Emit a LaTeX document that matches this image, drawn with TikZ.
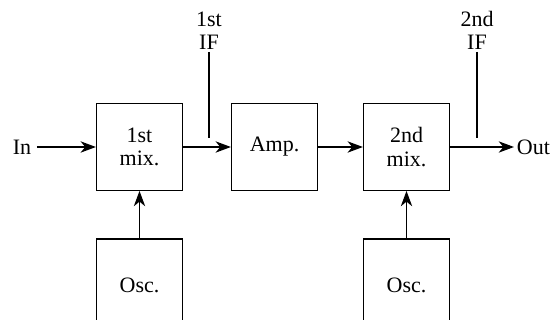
\documentclass[tikz,border=0pt]{standalone}
\usepackage{fontspec}
\setmainfont{Liberation Serif}
\usetikzlibrary{arrows.meta}

\tikzset{
  block/.style={draw, line width=0.9pt, minimum width=64.5pt, minimum height=65pt,
    align=center, inner sep=0pt},
  oscbox/.style={block, minimum height=69pt},
  lbl/.style={align=center, inner sep=1.5pt},
  sig/.style={line width=0.9pt, -{Stealth[length=11.5pt, width=8.5pt, inset=3.5pt]}},
  tap/.style={line width=0.9pt}
}

\begin{document}
\begin{tikzpicture}[x=0.75pt, y=-0.75pt, font=\fontsize{16.5}{17.5}\selectfont]
    % page frame, the oscillator boxes run off the bottom edge
    \useasboundingbox (0,0) rectangle (554,320);
    \clip (0,0) rectangle (554,320);

    % Main chain
    \node[lbl, inner xsep=4pt] (in) at (22,147) {In};
    \node[block] (mixA) at (139.5,147) {1st\\mix.};
    \node[block] (amp) at (274.5,147) {Amp.};
    \node[block] (mixB) at (406.5,147) {2nd\\mix.};
    \node[lbl, anchor=west, inner xsep=2pt] (out) at (514,147) {Out};

    % Local oscillators
    \node[oscbox] (oscA) at (139.5,285) {Osc.};
    \node[oscbox] (oscB) at (406.5,285) {Osc.};

    % IF taps
    \node[lbl, anchor=south] (ifA) at (209,52) {1st\\IF};
    \node[lbl, anchor=south] (ifB) at (477,52) {2nd\\IF};
    \coordinate (tapA) at (209,138);
    \coordinate (tapB) at (477,138);

    \draw[sig] (in) -- (mixA);
    \draw[sig] (mixA) -- (amp);
    \draw[sig] (amp) -- (mixB);
    \draw[sig] (mixB) -- (out);
    \draw[sig] (oscA) -- (mixA);
    \draw[sig] (oscB) -- (mixB);
    \draw[tap] (ifA) -- (tapA);
    \draw[tap] (ifB) -- (tapB);

\end{tikzpicture}
\end{document}
